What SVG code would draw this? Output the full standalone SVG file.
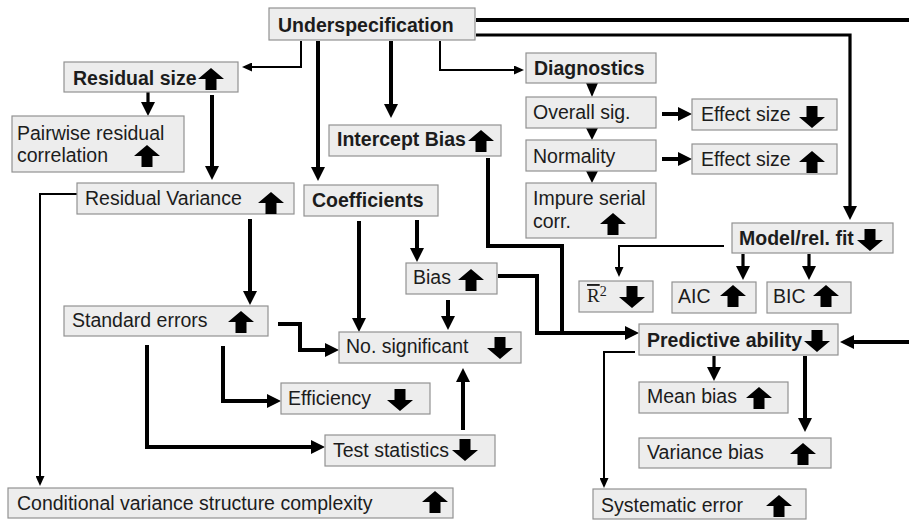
<svg xmlns="http://www.w3.org/2000/svg" width="909" height="520" viewBox="0 0 909 520">
<style>
.b{fill:#ededed;stroke:#929292;stroke-width:1.2}
.t{font-family:"Liberation Sans",Arial,sans-serif;font-size:19.5px;fill:#1c1c1c}
.bd{font-weight:bold}
.k{fill:none;stroke:#000;stroke-width:4;marker-end:url(#ah)}
.k3{fill:none;stroke:#000;stroke-width:3.2;marker-end:url(#ah)}
.n{fill:none;stroke:#000;stroke-width:2;marker-end:url(#as)}
.p{fill:none;stroke:#000;stroke-width:4}
.a{fill:#000}
</style>
<defs>
<marker id="ah" markerUnits="userSpaceOnUse" markerWidth="14" markerHeight="14" refX="10" refY="7" orient="auto" viewBox="0 0 14 14"><path d="M0,0 L14,7 L0,14 Z" fill="#000"/></marker>
<marker id="as" markerUnits="userSpaceOnUse" markerWidth="10" markerHeight="9" refX="8" refY="4.5" orient="auto" viewBox="0 0 10 9"><path d="M0,0 L10,4.5 L0,9 Z" fill="#000"/></marker>
<path id="up" d="M0,-11 L13,0 L5.5,0 L5.5,11 L-5.5,11 L-5.5,0 L-13,0 Z"/>
<path id="dn" d="M0,11 L13,0 L5.5,0 L5.5,-11 L-5.5,-11 L-5.5,0 L-13,0 Z"/>
</defs>
<rect width="909" height="520" fill="#fff"/>

<g id="connectors">
<path class="p" d="M476,20 H909"/>
<path class="k3" d="M476,35 H850 V216"/>
<path class="n" d="M301,41 V67 H244"/>
<path class="k" d="M318,41 V177"/>
<path class="k" d="M391,41 V114"/>
<path class="n" d="M440,41 V70 H522"/>
<path class="k3" d="M148,92 V112"/>
<path class="k" d="M212,95 V176"/>
<polygon class="a" points="586,83 598,83 592,97"/>
<polygon class="a" points="586,128 598,128 592,140"/>
<polygon class="a" points="586,171 598,171 592,183"/>
<path class="k" d="M662,114 H688"/>
<path class="k" d="M662,159 H688"/>
<path class="p" d="M488,158 V246 H562 V333"/>
<path class="k" d="M498,276 H537 V333 H635"/>
<path class="k" d="M250,219 V301"/>
<path class="n" d="M77,194 H40 V484"/>
<path class="k" d="M359,221 V328"/>
<path class="k" d="M417,220 V258"/>
<path class="k" d="M448,300 V326"/>
<path class="k" d="M278,324 H300 V350 H335"/>
<path class="k" d="M223,346 V401 H277"/>
<path class="k" d="M147,345 V447 H321"/>
<path class="k" d="M463,430 V372"/>
<path class="n" d="M724,246 H619 V275"/>
<path class="k3" d="M743,254 V276"/>
<path class="k3" d="M809,254 V276"/>
<path class="k" d="M909,342 H844"/>
<path class="k3" d="M714,356 V377"/>
<path class="k" d="M805,356 V428"/>
<path class="n" d="M635,352 H604 V486"/>
</g>

<g id="underspecification"><rect class="b" x="269" y="8" width="206" height="32"/><text class="t bd" x="278" y="32">Underspecification</text></g>
<g id="residual-size"><rect class="b" x="64" y="62" width="174" height="30"/><text class="t bd" x="73" y="85">Residual size</text><use href="#up" x="211" y="79"/></g>
<g id="pairwise"><rect class="b" x="12" y="116" width="172" height="56"/><text class="t" x="17" y="140">Pairwise residual</text><text class="t" x="17" y="162">correlation</text><use href="#up" x="147" y="156"/></g>
<g id="intercept-bias"><rect class="b" x="329" y="125" width="172" height="31"/><text class="t bd" x="337" y="146">Intercept Bias</text><use href="#up" x="481" y="141"/></g>
<g id="diagnostics"><rect class="b" x="526" y="53" width="130" height="30"/><text class="t bd" x="534" y="75">Diagnostics</text></g>
<g id="overall-sig"><rect class="b" x="526" y="97" width="130" height="31"/><text class="t" x="533" y="119">Overall sig.</text></g>
<g id="effect-size-down"><rect class="b" x="692" y="99" width="145" height="31"/><text class="t" x="701" y="121">Effect size</text><use href="#dn" x="812" y="117"/></g>
<g id="normality"><rect class="b" x="526" y="140" width="130" height="31"/><text class="t" x="533" y="163">Normality</text></g>
<g id="effect-size-up"><rect class="b" x="692" y="144" width="145" height="30"/><text class="t" x="701" y="166">Effect size</text><use href="#up" x="812" y="162"/></g>
<g id="impure-serial"><rect class="b" x="526" y="183" width="130" height="55"/><text class="t" x="533" y="205">Impure serial</text><text class="t" x="533" y="228">corr.</text><use href="#up" x="613" y="224"/></g>
<g id="model-fit"><rect class="b" x="732" y="223" width="161" height="30"/><text class="t bd" x="739" y="245">Model/rel. fit</text><use href="#dn" x="870" y="240"/></g>
<g id="r2"><rect class="b" x="579" y="281" width="74" height="31"/><text x="587" y="302" style="font-family:'Liberation Serif','Times New Roman',serif;font-size:19px;fill:#1c1c1c"><tspan text-decoration="overline">R</tspan><tspan dy="-6" font-size="14">2</tspan></text><use href="#dn" x="632" y="297"/></g>
<g id="aic"><rect class="b" x="672" y="282" width="84" height="31"/><text class="t" x="678" y="303">AIC</text><use href="#up" x="733" y="296"/></g>
<g id="bic"><rect class="b" x="767" y="282" width="84" height="31"/><text class="t" x="773" y="303">BIC</text><use href="#up" x="826" y="296"/></g>
<g id="predictive-ability"><rect class="b" x="639" y="324" width="199" height="31"/><text class="t bd" x="647" y="347">Predictive ability</text><use href="#dn" x="817" y="341"/></g>
<g id="mean-bias"><rect class="b" x="639" y="382" width="149" height="31"/><text class="t" x="647" y="403">Mean bias</text><use href="#up" x="759" y="398"/></g>
<g id="variance-bias"><rect class="b" x="639" y="438" width="192" height="30"/><text class="t" x="647" y="459">Variance bias</text><use href="#up" x="803" y="454"/></g>
<g id="systematic-error"><rect class="b" x="593" y="489" width="213" height="30"/><text class="t" x="601" y="512">Systematic error</text><use href="#up" x="779" y="506"/></g>
<g id="residual-variance"><rect class="b" x="77" y="183" width="217" height="31"/><text class="t" x="85" y="205">Residual Variance</text><use href="#up" x="271" y="203"/></g>
<g id="coefficients"><rect class="b" x="304" y="185" width="134" height="31"/><text class="t bd" x="312" y="207">Coefficients</text></g>
<g id="bias"><rect class="b" x="406" y="263" width="91" height="31"/><text class="t" x="413" y="284">Bias</text><use href="#up" x="471" y="280"/></g>
<g id="standard-errors"><rect class="b" x="64" y="306" width="204" height="30"/><text class="t" x="72" y="327">Standard errors</text><use href="#up" x="241" y="322"/></g>
<g id="no-significant"><rect class="b" x="339" y="332" width="182" height="31"/><text class="t" x="346" y="353">No. significant</text><use href="#dn" x="500" y="348"/></g>
<g id="efficiency"><rect class="b" x="281" y="383" width="149" height="31"/><text class="t" x="288" y="405">Efficiency</text><use href="#dn" x="400" y="400"/></g>
<g id="test-statistics"><rect class="b" x="325" y="435" width="170" height="31"/><text class="t" x="333" y="457">Test statistics</text><use href="#dn" x="465" y="450"/></g>
<g id="conditional-variance"><rect class="b" x="8" y="488" width="445" height="30"/><text class="t" x="17" y="510">Conditional variance structure complexity</text><use href="#up" x="435" y="502"/></g>
</svg>
